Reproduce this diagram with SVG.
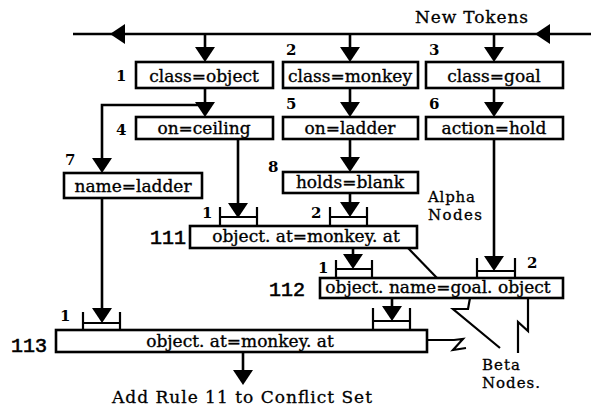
<svg xmlns="http://www.w3.org/2000/svg" xmlns:xlink="http://www.w3.org/1999/xlink" width="591" height="409" viewBox="0 0 591 409">
<style>
.bg{fill:#fff}
.box{fill:#fff;stroke:#000;stroke-width:2.6}
.ln{fill:none;stroke:#000;stroke-width:2.6}
.thin{fill:none;stroke:#000;stroke-width:2.2}
.t{font-family:"DejaVu Serif","Liberation Serif",serif;font-size:17px;fill:#000;stroke:#000;stroke-width:0.35;text-anchor:middle}
.lab{font-family:"DejaVu Serif","Liberation Serif",serif;font-size:15px;font-weight:bold;fill:#000}
.id{font-family:"Liberation Mono","DejaVu Sans Mono",monospace;font-size:20px;fill:#000;stroke:#000;stroke-width:0.6}
.note{font-family:"DejaVu Serif","Liberation Serif",serif;font-size:17px;fill:#000;stroke:#000;stroke-width:0.3}
.sm{font-family:"DejaVu Serif","Liberation Serif",serif;font-size:15px;fill:#000;stroke:#000;stroke-width:0.3}
</style>
<defs>
<path id="ah" d="M-10,-15 L10,-15 L0,0 Z" fill="#000"/>
</defs>
<rect class="bg" width="591" height="409"/>
<g id="connectors">
<line class="ln" x1="73" y1="34" x2="591" y2="34"/>
<use xlink:href="#ah" transform="translate(110,34) rotate(90)"/>
<use xlink:href="#ah" transform="translate(535,34) rotate(90)"/>
<line class="ln" x1="205" y1="34" x2="205" y2="55"/>
<use xlink:href="#ah" x="205" y="62"/>
<line class="ln" x1="350" y1="34" x2="350" y2="55"/>
<use xlink:href="#ah" x="350" y="62"/>
<line class="ln" x1="494" y1="34" x2="494" y2="55"/>
<use xlink:href="#ah" x="494" y="62"/>
<line class="ln" x1="205" y1="88" x2="205" y2="110"/>
<use xlink:href="#ah" x="205" y="117"/>
<polyline class="ln" points="205,105 102,105 102,165"/>
<use xlink:href="#ah" x="102" y="173"/>
<line class="ln" x1="350" y1="88" x2="350" y2="110"/>
<use xlink:href="#ah" x="350" y="117"/>
<line class="ln" x1="494" y1="88" x2="494" y2="110"/>
<use xlink:href="#ah" x="494" y="117"/>
<line class="ln" x1="238" y1="139" x2="238" y2="210"/>
<use xlink:href="#ah" x="238" y="218"/>
<line class="ln" x1="350" y1="139" x2="350" y2="165"/>
<use xlink:href="#ah" x="350" y="172"/>
<line class="ln" x1="350" y1="193" x2="350" y2="210"/>
<use xlink:href="#ah" x="350" y="217"/>
<line class="ln" x1="494" y1="139" x2="494" y2="264"/>
<use xlink:href="#ah" x="494" y="271"/>
<line class="ln" x1="353" y1="248" x2="353" y2="262"/>
<use xlink:href="#ah" x="353" y="269"/>
<line class="ln" x1="102" y1="198" x2="102" y2="316"/>
<use xlink:href="#ah" x="102" y="323"/>
<line class="ln" x1="392" y1="298" x2="392" y2="314"/>
<use xlink:href="#ah" x="392" y="321"/>
<line class="ln" x1="243" y1="352" x2="243" y2="378"/>
<use xlink:href="#ah" x="243" y="385"/>
<path class="thin" d="M220,207 V226 M257,207 V226 M220,217 H257"/>
<path class="thin" d="M330,207 V226 M367,207 V226 M330,217 H367"/>
<path class="thin" d="M336,260 V278 M372,260 V278 M336,269 H372"/>
<path class="thin" d="M477,258 V278 M515,258 V278 M477,271 H515"/>
<path class="thin" d="M83,312 V330 M120,312 V330 M83,323 H120"/>
<path class="thin" d="M373,308 V330 M410,308 V330 M373,321 H410"/>
<line class="thin" x1="408" y1="248" x2="437" y2="278"/>
<polyline class="thin" points="470,298 468,309 453,309 500,348"/>
<polyline class="thin" points="427,340 454,340 463,339 453,350 466,348"/>
<polyline class="thin" points="528,298 528,331 518,322 518,353"/>
</g>
<g id="n1"><rect class="box" x="136" y="62" width="137" height="26"/><text class="t" x="204" y="82">class=object</text><text class="lab" x="116" y="81">1</text></g>
<g id="n2"><rect class="box" x="283" y="62" width="135" height="26"/><text class="t" x="350" y="82">class=monkey</text><text class="lab" x="286" y="55">2</text></g>
<g id="n3"><rect class="box" x="426" y="62" width="137" height="26"/><text class="t" x="494" y="82">class=goal</text><text class="lab" x="429" y="55">3</text></g>
<g id="n4"><rect class="box" x="136" y="117" width="137" height="22"/><text class="t" x="204" y="134">on=ceiling</text><text class="lab" x="116" y="135">4</text></g>
<g id="n5"><rect class="box" x="283" y="117" width="135" height="22"/><text class="t" x="350" y="134">on=ladder</text><text class="lab" x="286" y="109">5</text></g>
<g id="n6"><rect class="box" x="426" y="117" width="137" height="22"/><text class="t" x="494" y="134">action=hold</text><text class="lab" x="429" y="109">6</text></g>
<g id="n7"><rect class="box" x="64" y="173" width="138" height="25"/><text class="t" x="133" y="192">name=ladder</text><text class="lab" x="65" y="165">7</text></g>
<g id="n8"><rect class="box" x="283" y="172" width="135" height="21"/><text class="t" x="350" y="188">holds=blank</text><text class="lab" x="268" y="172">8</text></g>
<g id="n111"><rect class="box" x="190" y="226" width="227" height="22"/><text class="t" x="306" y="242">object. at=monkey. at</text><text class="id" x="150" y="244">111</text><text class="lab" x="202" y="218">1</text><text class="lab" x="311" y="218">2</text></g>
<g id="n112"><rect class="box" x="320" y="278" width="243" height="20"/><text class="t" x="438" y="293">object. name=goal. object</text><text class="id" x="269" y="296">112</text><text class="lab" x="318" y="273">1</text><text class="lab" x="527" y="268">2</text></g>
<g id="n113"><rect class="box" x="56" y="330" width="371" height="22"/><text class="t" x="240" y="347">object. at=monkey. at</text><text class="id" x="11" y="352">113</text><text class="lab" x="60" y="321">1</text></g>
<g id="labels">
<text class="note" x="415" y="23" textLength="113">New Tokens</text>
<text class="sm" x="428" y="202" textLength="47">Alpha</text>
<text class="sm" x="428" y="220" textLength="54">Nodes</text>
<text class="sm" x="482" y="370" textLength="38">Beta</text>
<text class="sm" x="482" y="388" textLength="58">Nodes.</text>
<text class="note" x="112" y="403" textLength="260">Add Rule 11 to Conflict Set</text>
</g>
</svg>
